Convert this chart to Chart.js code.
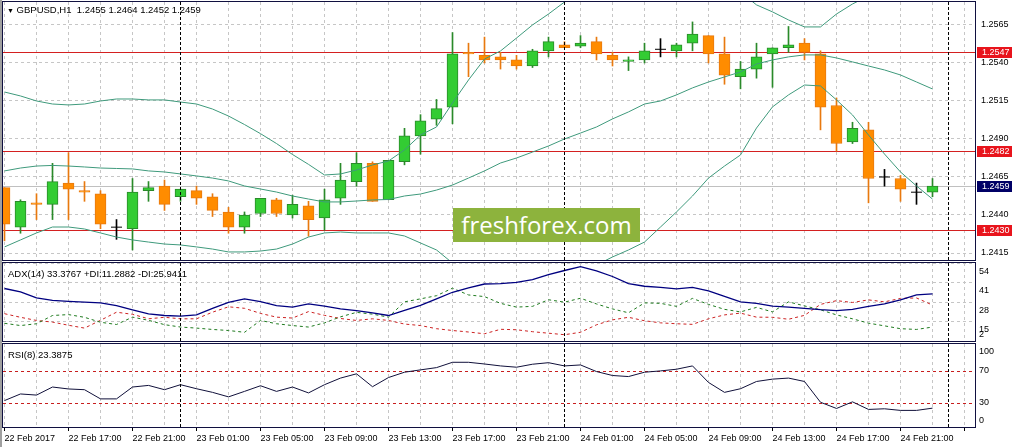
<!DOCTYPE html>
<html>
<head>
<meta charset="utf-8">
<title>GBPUSD H1</title>
<script src="https://cdn.jsdelivr.net/npm/chart.js@4.4.1/dist/chart.umd.min.js"></script>
<style>
    html, body { margin: 0; padding: 0; background: #ffffff; }
    #wrap { position: relative; width: 1017px; height: 447px; overflow: hidden; background: #ffffff; }
    #wrap canvas { position: absolute; left: 0; }
    #edge { position: absolute; left: 0; top: 0; width: 2px; height: 447px; background: #a0a0a0; }
    .caption { position: absolute; font-family: "Liberation Sans", Arial, sans-serif; font-size: 9.5px; line-height: 11px; color: #000000; white-space: pre; }
    #logo { position: absolute; left: 453px; top: 208px; width: 187px; height: 34px; background: #8db33d; color: #ffffff; font-family: "Open Sans", sans-serif; font-size: 24px; line-height: 33px; text-align: center; }
</style>
</head>
<body>
<div id="wrap">
    <canvas id="mainChart" width="1017" height="262" style="top:0px"></canvas>
    <canvas id="adxChart" width="1017" height="81" style="top:262px"></canvas>
    <canvas id="rsiChart" width="1017" height="104" style="top:343px"></canvas>
    <div id="edge"></div>
    <div class="caption" style="left:7px;top:4px"><span style="font-size:7px">&#9660;</span> GBPUSD,H1  1.2455 1.2464 1.2452 1.2459</div>
    <div class="caption" style="left:8px;top:268px">ADX(14) 33.3767 +DI:11.2882 -DI:25.9411</div>
    <div class="caption" style="left:8px;top:349px">RSI(8) 23.3875</div>
    <div id="logo">freshforex.com</div>
</div>
<script>
// time axis
let timeLabels = ['22 Feb 2017', '22 Feb 17:00', '22 Feb 21:00', '23 Feb 01:00', '23 Feb 05:00', '23 Feb 09:00', '23 Feb 13:00',
    '23 Feb 17:00', '23 Feb 21:00', '24 Feb 01:00', '24 Feb 05:00', '24 Feb 09:00', '24 Feb 13:00', '24 Feb 17:00', '24 Feb 21:00'];
let labelEvery = 4;
let gridEvery = 2;
let daySeparators = [11, 35, 59];

// GBPUSD H1 candles
let opens = [1.2458, 1.2432, 1.2448, 1.2447, 1.2461, 1.2456, 1.2454, 1.2432, 1.2431, 1.2456, 1.2459, 1.2452, 1.2456, 1.2452, 1.2442,
    1.2432, 1.2441, 1.2450, 1.2440, 1.2446, 1.2438, 1.2451, 1.2462, 1.2474, 1.2450, 1.2475, 1.2492, 1.2503, 1.2511, 1.2547,
    1.2545, 1.2544, 1.2542, 1.2538, 1.2548, 1.2552, 1.2551, 1.2554, 1.2545, 1.2541, 1.2542, 1.2549, 1.2548, 1.2553, 1.2558,
    1.2546, 1.2531, 1.2536, 1.2546, 1.2550, 1.2553, 1.2546, 1.2512, 1.2488, 1.2496, 1.2465, 1.2464, 1.2455, 1.2455];
let highs = [1.2458, 1.2450, 1.2454, 1.2474, 1.2481, 1.2462, 1.2456, 1.2437, 1.2464, 1.2462, 1.2463, 1.2457, 1.2459, 1.2454, 1.2445,
    1.2442, 1.2451, 1.2451, 1.2453, 1.2449, 1.2457, 1.2474, 1.2481, 1.2475, 1.2476, 1.2497, 1.2506, 1.2516, 1.2560, 1.2553,
    1.2557, 1.2547, 1.2545, 1.2549, 1.2557, 1.2554, 1.2558, 1.2557, 1.2547, 1.2544, 1.2553, 1.2556, 1.2553, 1.2567, 1.2558,
    1.2557, 1.2541, 1.2553, 1.2550, 1.2564, 1.2556, 1.2548, 1.2517, 1.2501, 1.2501, 1.2470, 1.2466, 1.2461, 1.2464];
let lows = [1.2423, 1.2428, 1.2437, 1.2437, 1.2437, 1.2449, 1.2431, 1.2424, 1.2417, 1.2449, 1.2443, 1.2449, 1.2447, 1.2439, 1.2428,
    1.2428, 1.2439, 1.2439, 1.2438, 1.2426, 1.2430, 1.2447, 1.2459, 1.2449, 1.2450, 1.2473, 1.2480, 1.2499, 1.2500, 1.2531,
    1.2540, 1.2536, 1.2536, 1.2537, 1.2544, 1.2550, 1.2550, 1.2542, 1.2538, 1.2535, 1.2540, 1.2544, 1.2544, 1.2548, 1.2540,
    1.2526, 1.2523, 1.2530, 1.2524, 1.2547, 1.2542, 1.2496, 1.2482, 1.2487, 1.2448, 1.2459, 1.2449, 1.2447, 1.2452];
let closes = [1.2434, 1.2449, 1.2447, 1.2462, 1.2457, 1.2455, 1.2434, 1.2432, 1.2455, 1.2458, 1.2447, 1.2457, 1.2451, 1.2443, 1.2432,
    1.2440, 1.2451, 1.2441, 1.2447, 1.2437, 1.2450, 1.2463, 1.2474, 1.2449, 1.2476, 1.2492, 1.2502, 1.2510, 1.2546, 1.2546,
    1.2542, 1.2542, 1.2538, 1.2548, 1.2554, 1.2550, 1.2553, 1.2546, 1.2542, 1.2542, 1.2548, 1.2549, 1.2552, 1.2559, 1.2546,
    1.2532, 1.2536, 1.2544, 1.2550, 1.2552, 1.2547, 1.2511, 1.2487, 1.2497, 1.2464, 1.2465, 1.2457, 1.2455, 1.2459];

// Bollinger bands
let bandUpper = [1.25209, 1.25183, 1.25150, 1.25130, 1.25124, 1.25130, 1.25150, 1.25163, 1.25163, 1.25157, 1.25157, 1.25143,
    1.25130, 1.25097, 1.25051, 1.24995, 1.24935, 1.24870, 1.24798, 1.24733, 1.24663, 1.24670, 1.24696, 1.24729, 1.24755,
    1.24828, 1.24926, 1.24979, 1.25137, 1.25288, 1.25426, 1.25479, 1.25564, 1.25650, 1.25722, 1.25801, 1.25847, 1.25887,
    1.25940, 1.25986, 1.26038, 1.25979, 1.25960, 1.25946, 1.25907, 1.25893, 1.25867, 1.25782, 1.25736, 1.25683, 1.25637,
    1.25637, 1.25722, 1.25788, 1.25841, 1.25907, 1.25960, 1.25960, 1.25953];
let bandMiddle = [1.24690, 1.24709, 1.24722, 1.24726, 1.24722, 1.24716, 1.24709, 1.24706, 1.24703, 1.24690, 1.24683, 1.24670,
    1.24657, 1.24643, 1.24624, 1.24591, 1.24571, 1.24551, 1.24525, 1.24505, 1.24486, 1.24486, 1.24492, 1.24499, 1.24502,
    1.24525, 1.24538, 1.24564, 1.24597, 1.24643, 1.24690, 1.24742, 1.24775, 1.24814, 1.24854, 1.24900, 1.24939, 1.24979,
    1.25032, 1.25078, 1.25130, 1.25150, 1.25190, 1.25236, 1.25275, 1.25308, 1.25341, 1.25393, 1.25420, 1.25440, 1.25453,
    1.25453, 1.25433, 1.25407, 1.25380, 1.25354, 1.25321, 1.25275, 1.25229];
let bandLower = [1.24190, 1.24236, 1.24282, 1.24321, 1.24321, 1.24308, 1.24282, 1.24255, 1.24236, 1.24222, 1.24209, 1.24203,
    1.24190, 1.24176, 1.24157, 1.24157, 1.24163, 1.24176, 1.24209, 1.24255, 1.24282, 1.24288, 1.24282, 1.24282, 1.24282,
    1.24262, 1.24216, 1.24170, 1.24084, 1.24012, 1.23986, 1.23999, 1.23999, 1.23992, 1.23992, 1.23999, 1.24032, 1.24071,
    1.24124, 1.24170, 1.24222, 1.24321, 1.24420, 1.24525, 1.24643, 1.24722, 1.24795, 1.24972, 1.25111, 1.25190, 1.25255,
    1.25249, 1.25157, 1.25058, 1.24926, 1.24801, 1.24683, 1.24591, 1.24505];

let priceLevels = [1.2547, 1.2482, 1.2430];
let bidPrice = 1.2459;
let priceTicks = [1.2415, 1.2440, 1.2465, 1.2490, 1.2515, 1.2540, 1.2565];
let priceMin = 1.24104;
let priceMax = 1.25801;

// ADX(14)
let adx = [37.0, 34.7, 30.7, 29.1, 28.4, 27.9, 27.4, 25.6, 22.8, 20.1, 19.0, 18.6, 19.4, 23.8, 27.7, 30.1, 28.3, 25.6, 24.6, 26.7,
    25.2, 23.4, 22.3, 20.8, 19.0, 22.4, 25.7, 30.1, 34.5, 37.4, 40.0, 40.3, 41.1, 42.9, 46.3, 49.0, 51.6, 48.8, 45.0, 40.3,
    38.5, 37.7, 36.7, 37.7, 35.4, 31.7, 28.1, 27.1, 25.2, 24.6, 23.8, 22.9, 22.3, 23.1, 25.1, 26.7, 29.4, 32.7, 33.3767];
let plusDi = [13.8, 12.3, 13.5, 19.0, 19.6, 17.8, 14.5, 13.0, 17.9, 15.8, 12.9, 11.3, 10.6, 9.7, 9.0, 7.8, 15.7, 13.5, 12.3, 11.3,
    14.1, 18.1, 21.1, 19.9, 17.9, 28.1, 30.1, 32.2, 37.2, 32.7, 31.6, 27.1, 24.6, 25.1, 29.5, 27.9, 30.5, 26.7, 23.4, 20.8,
    27.4, 27.1, 25.1, 30.4, 26.4, 23.1, 21.4, 24.4, 21.4, 28.1, 25.4, 22.8, 19.4, 16.8, 13.9, 12.1, 10.2, 9.7, 11.2882];
let minusDi = [20.2, 17.8, 15.7, 14.6, 12.5, 10.6, 15.8, 21.2, 19.8, 16.8, 17.8, 16.8, 16.8, 21.2, 24.8, 23.8, 20.4, 17.9, 17.3, 21.6,
    19.1, 17.0, 15.7, 16.8, 15.7, 13.3, 12.3, 10.2, 9.0, 8.0, 6.8, 9.8, 9.5, 8.2, 7.2, 6.2, 7.8, 12.8, 16.1, 17.8,
    15.5, 14.1, 13.5, 13.1, 16.8, 19.4, 20.6, 17.9, 17.8, 16.5, 19.1, 26.4, 28.9, 27.7, 29.4, 28.1, 30.4, 30.7, 25.9411];
let adxTicks = [2, 15, 28, 41, 54];

// RSI(8)
let rsi = [32.8, 41.0, 39.6, 49.6, 47.2, 46.3, 34.9, 34.9, 49.6, 51.6, 46.3, 52.5, 47.5, 43.0, 37.4, 44.2, 51.2, 44.2, 49.6, 42.3,
    52.5, 60.7, 66.0, 50.0, 61.4, 68.0, 70.9, 73.7, 80.3, 80.3, 78.2, 75.8, 74.2, 77.9, 79.8, 75.8, 77.0, 68.8, 63.9, 62.6,
    68.0, 69.6, 71.7, 75.8, 55.3, 43.0, 47.5, 56.5, 59.4, 60.7, 56.5, 30.7, 23.0, 31.2, 21.8, 22.6, 20.6, 20.6, 23.3875];
let rsiLevels = [30, 70];
let rsiTicks = [0, 30, 70, 100];

// visible bar window
let xMin = -0.09375;
let xMax = 60.65625;

let gridColor = '#c6c6c6';
let frameColor = '#101040';
let bandColor = '#3f9a7c';
let font9 = { family: 'Liberation Sans', size: 9 };

Chart.defaults.font.family = 'Liberation Sans';
Chart.defaults.font.size = 9;
Chart.defaults.color = '#000000';

function series(values) {
    return values.map((v, i) => ({ x: i, y: v }));
}

function candleColor(i, up, down, flat) {
    if (closes[i] > opens[i]) return up;
    if (closes[i] < opens[i]) return down;
    return flat;
}

let wickData = [], wickColors = [], bodyData = [], bodyFill = [], bodyEdge = [], dojiData = [];
for (let i = 0; i < opens.length; i++) {
    wickData.push({ x: i, y: [lows[i], highs[i]] });
    wickColors.push(candleColor(i, '#2a8a2a', '#e8790f', '#000000'));
    if (opens[i] === closes[i]) {
        dojiData.push({ x: i, y: opens[i] });
    } else {
        bodyData.push({ x: i, y: [opens[i], closes[i]] });
        bodyFill.push(candleColor(i, '#33cc33', '#ff8c00'));
        bodyEdge.push(candleColor(i, '#2a8a2a', '#e8790f'));
    }
}

// frames, level lines, day separators, scale labels and price tags
let panelDecor = {
    id: 'panelDecor',
    beforeDatasetsDraw(chart, args, opts) {
        let ctx = chart.ctx, area = chart.chartArea, y = chart.scales.y;
        ctx.save();
        (opts.lines || []).forEach(line => {
            let py = Math.round(y.getPixelForValue(line.value)) + 0.5;
            ctx.strokeStyle = line.color;
            ctx.lineWidth = 1;
            ctx.setLineDash(line.dash || []);
            ctx.beginPath();
            ctx.moveTo(area.left, py);
            ctx.lineTo(area.right, py);
            ctx.stroke();
        });
        ctx.restore();
    },
    afterDatasetsDraw(chart) {
        let ctx = chart.ctx, area = chart.chartArea, x = chart.scales.x;
        ctx.save();
        ctx.strokeStyle = '#000000';
        ctx.lineWidth = 1;
        ctx.setLineDash([3, 2]);
        daySeparators.forEach(d => {
            let px = Math.floor(x.getPixelForValue(d)) + 0.5;
            ctx.beginPath();
            ctx.moveTo(px, area.top);
            ctx.lineTo(px, area.bottom);
            ctx.stroke();
        });
        ctx.restore();
    },
    afterDraw(chart, args, opts) {
        let ctx = chart.ctx, area = chart.chartArea, y = chart.scales.y;
        ctx.save();
        ctx.strokeStyle = frameColor;
        ctx.lineWidth = 1;
        ctx.strokeRect(area.left - 0.5, area.top - 0.5, area.right - area.left + 1, area.bottom - area.top + 1);

        ctx.font = '9px "Liberation Sans"';
        ctx.textBaseline = 'middle';
        ctx.textAlign = 'left';
        let side = opts.sideLabels;
        if (side) {
            ctx.fillStyle = '#000000';
            side.values.forEach(v => {
                let py = y.getPixelForValue(v) + side.shift;
                py = Math.max(area.top + 7.5, Math.min(area.bottom - 6, py));
                ctx.fillText(side.format ? side.format(v) : String(v), area.right + side.gap, py);
            });
        }
        (opts.tags || []).forEach(tag => {
            let py = Math.round(y.getPixelForValue(tag.value));
            ctx.fillStyle = tag.color;
            ctx.fillRect(area.right + 2, py - 5, 35, 11);
            ctx.fillStyle = '#ffffff';
            ctx.fillText(tag.value.toFixed(4), area.right + 7, py + 0.5);
        });
        ctx.restore();
    }
};

function xAxis(showLabels) {
    return {
        type: 'linear',
        min: xMin,
        max: xMax,
        offset: false,
        afterBuildTicks(scale) {
            let ticks = [];
            for (let i = 0; i <= Math.floor(xMax); i += gridEvery) ticks.push({ value: i });
            scale.ticks = ticks;
        },
        afterFit(scale) {
            scale.height = showLabels ? 20 : 0;
            scale.paddingLeft = 0;
            scale.paddingRight = 0;
        },
        grid: {
            offset: false,
            color: gridColor,
            drawTicks: showLabels,
            tickLength: 4,
            tickWidth: 1,
            tickColor: ctx => (ctx.tick && ctx.tick.value % labelEvery === 0) ? '#000000' : 'rgba(0,0,0,0)'
        },
        border: { display: false, dash: [3, 3] },
        ticks: {
            display: showLabels,
            autoSkip: false,
            maxRotation: 0,
            minRotation: 0,
            align: 'start',
            padding: 2,
            font: font9,
            color: '#000000',
            callback: value => value % labelEvery === 0 ? (timeLabels[value / labelEvery] || '') : ''
        }
    };
}

function yAxis(min, max, tickValues) {
    return {
        position: 'right',
        min: min,
        max: max,
        beginAtZero: false,
        afterBuildTicks(scale) {
            scale.ticks = tickValues.map(v => ({ value: v }));
        },
        afterFit(scale) {
            scale.width = 42;
        },
        grid: { color: gridColor, drawTicks: false },
        border: { display: false, dash: [3, 3] },
        ticks: { display: false }
    };
}

function baseOptions(padding, xLabels, y) {
    return {
        responsive: false,
        animation: false,
        events: [],
        layout: { padding: padding, autoPadding: false },
        plugins: { legend: { display: false }, tooltip: { enabled: false } },
        scales: { x: xAxis(xLabels), y: y }
    };
}

// main window: candles + Bollinger bands
let mainOptions = baseOptions({ left: 3, top: 2, right: 0, bottom: 2 }, false, yAxis(priceMin, priceMax, priceTicks));
mainOptions.plugins.panelDecor = {
    lines: [{ value: bidPrice, color: '#c0c0c0' }].concat(priceLevels.map(v => ({ value: v, color: '#d42020' }))),
    sideLabels: { values: priceTicks, shift: 0, gap: 6, format: v => v.toFixed(4) },
    tags: priceLevels.map(v => ({ value: v, color: '#e8141c' })).concat([{ value: bidPrice, color: '#000066' }])
};
new Chart(document.getElementById('mainChart'), {
    type: 'bar',
    data: {
        datasets: [
            { type: 'line', data: series(bandUpper), borderColor: bandColor, borderWidth: 1, pointRadius: 0, order: 1 },
            { type: 'line', data: series(bandMiddle), borderColor: bandColor, borderWidth: 1, pointRadius: 0, order: 1 },
            { type: 'line', data: series(bandLower), borderColor: bandColor, borderWidth: 1, pointRadius: 0, order: 1 },
            { type: 'line', data: dojiData, showLine: false, pointStyle: 'line', pointRadius: 5.5, pointBorderWidth: 1, pointBorderColor: '#000000', order: 2 },
            { type: 'bar', data: bodyData, backgroundColor: bodyFill, borderColor: bodyEdge, borderWidth: 1, borderSkipped: false, barThickness: 11, grouped: false, order: 3 },
            { type: 'bar', data: wickData, backgroundColor: wickColors, barThickness: 1, grouped: false, order: 4 }
        ]
    },
    options: mainOptions,
    plugins: [panelDecor]
});

// ADX window
let adxOptions = baseOptions({ left: 3, top: 1, right: 0, bottom: 2 }, false, yAxis(adxTicks[0], adxTicks[adxTicks.length - 1], adxTicks));
adxOptions.plugins.panelDecor = { sideLabels: { values: adxTicks, shift: 8.5, gap: 4 } };
new Chart(document.getElementById('adxChart'), {
    type: 'line',
    data: {
        datasets: [
            { data: series(adx), borderColor: '#000080', borderWidth: 1.3, pointRadius: 0 },
            { data: series(plusDi), borderColor: '#1e7a1e', borderWidth: 1, borderDash: [3, 3], pointRadius: 0 },
            { data: series(minusDi), borderColor: '#cc2222', borderWidth: 1, borderDash: [3, 3], pointRadius: 0 }
        ]
    },
    options: adxOptions,
    plugins: [panelDecor]
});

// RSI window
let rsiOptions = baseOptions({ left: 3, top: 1, right: 0, bottom: 0 }, true, yAxis(0, 103, []));
rsiOptions.plugins.panelDecor = {
    lines: rsiLevels.map(v => ({ value: v, color: '#c81e1e', dash: [3, 3] })),
    sideLabels: { values: rsiTicks, shift: 0, gap: 4 }
};
new Chart(document.getElementById('rsiChart'), {
    type: 'line',
    data: {
        datasets: [
            { data: series(rsi), borderColor: '#10103a', borderWidth: 1, pointRadius: 0 }
        ]
    },
    options: rsiOptions,
    plugins: [panelDecor]
});
</script>
</body>
</html>
